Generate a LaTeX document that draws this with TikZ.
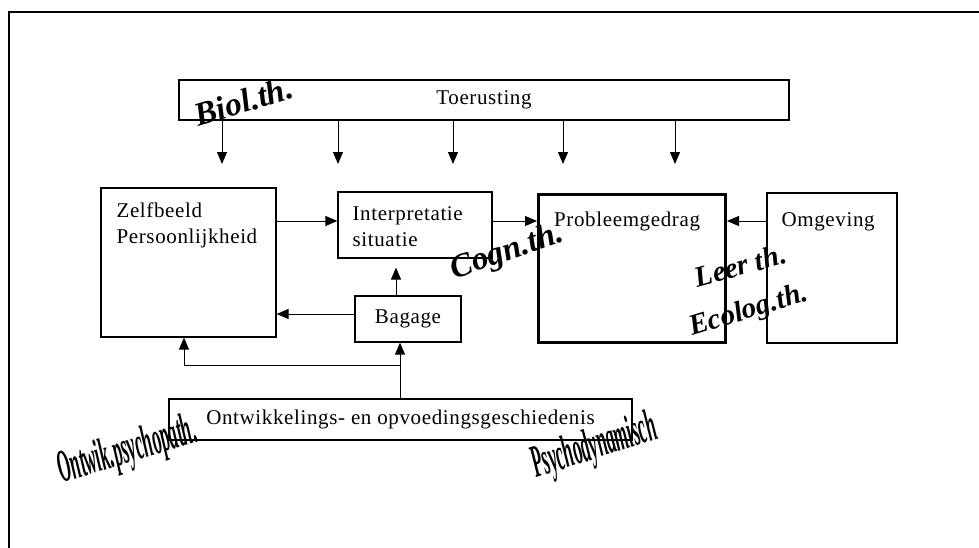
\documentclass[tikz,border=0pt]{standalone}
\usepackage{fontspec}
\setmainfont{Liberation Serif}
\usetikzlibrary{arrows.meta, positioning}
\tikzset{
    BoxText/.style={font=\fontsize{21}{26}\selectfont\addfontfeatures{LetterSpace=3}, inner sep=0pt, align=left},
    TheoryText/.style={font=\fontsize{33}{35}\selectfont\bfseries\itshape, inner sep=0pt, anchor=base},
    SqueezedText/.style={TheoryText, font=\fontsize{46}{48}\selectfont\bfseries\itshape, rotate=#1, xscale=0.38},
    PlainBox/.style={draw, line width=1.2pt, inner sep=0pt},
    HeavyBox/.style={draw, line width=3pt, inner sep=0pt},
    FlowArrow/.style={-{Triangle[length=12pt, width=10pt]}, line width=1pt}
}
\begin{document}
\begin{tikzpicture}[x=1pt, y=-1pt]
    \useasboundingbox (0,0) rectangle (979,547);
    % kader
    \draw[line width=2pt] (9,548) -- (9,12) -- (980,12);

    % blokken
    \node[PlainBox, BoxText, minimum width=610pt, minimum height=40pt] (toer) at (484,100) {Toerusting};
    \node[PlainBox, minimum width=175pt, minimum height=149pt] (zelf) at (188.5,262.5) {};
    \node[PlainBox, minimum width=154pt, minimum height=66pt] (interp) at (415,225) {};
    \node[PlainBox, BoxText, minimum width=106pt, minimum height=46pt] (bag) at (408,319) {Bagage};
    \node[HeavyBox, minimum width=187pt, minimum height=148pt] (probl) at (632,268.5) {};
    \node[PlainBox, minimum width=130pt, minimum height=150pt] (omg) at (832,268) {};
    \node[PlainBox, BoxText, minimum width=463pt, minimum height=41pt] (ontw) at (400.5,419.5) {Ontwikkelings- en opvoedingsgeschiedenis};

    % teksten in de blokken
    \node[BoxText, anchor=north west] (zelfTxt) at ([xshift=16pt, yshift=-15pt]zelf.north west) {Zelfbeeld\\Persoonlijkheid};
    \node[BoxText, anchor=north west] (interpTxt) at ([xshift=15pt, yshift=-15pt]interp.north west) {Interpretatie\\situatie};
    \node[BoxText, anchor=north west] (problTxt) at ([xshift=17pt, yshift=-19pt]probl.north west) {Probleemgedrag};
    \node[BoxText, anchor=north west] (omgTxt) at ([xshift=15pt, yshift=-20pt]omg.north west) {Omgeving};

    % pijlen
    \foreach \x [count=\i] in {222,338,453,563,675} {
        \coordinate (tip\i) at (\x,164);
        \draw[FlowArrow] (toer.south -| tip\i) -- (tip\i);
    }
    \draw[FlowArrow] ([yshift=4pt]interp.west -| zelf.east) -- ([yshift=4pt]interp.west);
    \draw[FlowArrow] ([yshift=4pt]interp.east) -- ([yshift=4pt]interp.east -| probl.west);
    \draw[FlowArrow] ([yshift=4pt]interp.east -| omg.west) -- ([yshift=4pt]interp.east -| probl.east);
    \draw[FlowArrow, shorten >=9pt] ([xshift=-12pt]bag.north) -- ([xshift=-12pt]bag.north |- interp.south);
    \draw[FlowArrow] ([yshift=5pt]bag.west) -- ([yshift=5pt]bag.west -| zelf.east);
    \coordinate (split) at (400,365);
    \coordinate (bend) at (184,365);
    \draw[FlowArrow] (ontw.north -| split) -- (bag.south -| split);
    \draw[FlowArrow] (split) -- (bend) -- (bend |- zelf.south);

    % theorieen
    \node[TheoryText, rotate=17] (biol) at (247,112) {Biol.th.};
    \node[TheoryText, rotate=19] (cogn) at (510,260) {Cogn.th.};
    \node[TheoryText, rotate=15, font=\fontsize{29}{31}\selectfont\bfseries\itshape] (leer) at (743,275) {Leer th.};
    \node[TheoryText, rotate=17, font=\fontsize{29}{31}\selectfont\bfseries\itshape] (ecolog) at (751,318) {Ecolog.th.};
    \node[SqueezedText=17] (ontwik) at (131,462) {Ontwik.psychopath.};
    \node[SqueezedText=18] (psycho) at (598,458) {Psychodynamisch};
\end{tikzpicture}
\end{document}
